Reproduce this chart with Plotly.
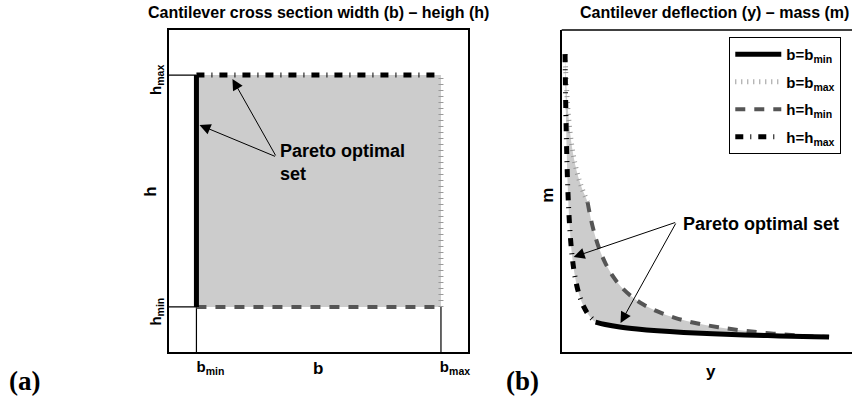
import plotly.graph_objects as go

# ---- left panel: design space (b, h) ----
B_MIN, B_MAX = 0.093, 0.91
H_MIN, H_MAX = 0.14, 0.86

# ---- right panel: objective space, deflection y vs mass m (arbitrary units) ----
y_hmax = [0.0116, 0.0134, 0.0165, 0.0214, 0.0268, 0.0334, 0.0412, 0.051, 0.063, 0.0764, 0.093, 0.1168]
m_hmax = [0.925, 0.80, 0.65, 0.50, 0.40, 0.32, 0.26, 0.21, 0.17, 0.14, 0.115, 0.093]

y_bmin = [0.1168, 0.15, 0.2, 0.26, 0.33, 0.42, 0.52, 0.63, 0.75, 0.87, 0.921]
m_bmin = [0.093, 0.0856, 0.0777, 0.0713, 0.0658, 0.0607, 0.0566, 0.0530, 0.0500, 0.0476, 0.0462]

y_hmin = [0.0893, 0.10, 0.115, 0.13, 0.15, 0.175, 0.205, 0.24, 0.28, 0.33, 0.39, 0.46, 0.54, 0.63, 0.73, 0.83, 0.921]
m_hmin = [0.465, 0.415, 0.361, 0.319, 0.277, 0.237, 0.202, 0.173, 0.148, 0.126, 0.106, 0.090, 0.077, 0.066, 0.057, 0.050, 0.0462]

y_bmax = [0.0116, 0.0135, 0.016, 0.0195, 0.024, 0.030, 0.037, 0.046, 0.057, 0.070, 0.0893]
m_bmax = [0.925, 0.880, 0.831, 0.778, 0.726, 0.674, 0.628, 0.584, 0.544, 0.508, 0.465]

FONT = "Liberation Sans"
FILL = "rgb(204,204,204)"
DASHDOT = "8px,7px,1px,7px"
DOTTED = "1px,5px"
DASHED = "10px,9px"

W, H = 854, 405
ML, MR, MT, MB = 0, 0, 30, 53
PW, PH = W - ML - MR, H - MT - MB


def px_x(p):
    return (p - ML) / PW


def px_y(p):
    return (H - MB - p) / PH


fig = go.Figure()

# left: feasible rectangle
fig.add_trace(go.Scatter(
    x=[B_MIN, B_MAX, B_MAX, B_MIN, B_MIN], y=[H_MIN, H_MIN, H_MAX, H_MAX, H_MIN],
    fill="toself", fillcolor=FILL, mode="none", showlegend=False, hoverinfo="skip",
    xaxis="x", yaxis="y"))
# guide lines to the tick positions
fig.add_trace(go.Scatter(
    x=[0, B_MIN, None, 0, B_MIN, None, B_MIN, B_MIN, None, B_MAX, B_MAX],
    y=[H_MAX, H_MAX, None, H_MIN, H_MIN, None, 0, H_MAX, None, 0, H_MIN],
    mode="lines", line=dict(color="black", width=1.2), showlegend=False,
    hoverinfo="skip", xaxis="x", yaxis="y"))
fig.add_trace(go.Scatter(
    x=[B_MAX, B_MAX], y=[H_MIN, H_MAX], mode="lines",
    line=dict(color="#999999", width=5, dash=DOTTED), showlegend=False,
    xaxis="x", yaxis="y"))
fig.add_trace(go.Scatter(
    x=[B_MIN, B_MAX], y=[H_MIN, H_MIN], mode="lines",
    line=dict(color="#555555", width=4, dash=DASHED), showlegend=False,
    xaxis="x", yaxis="y"))
fig.add_trace(go.Scatter(
    x=[B_MIN, B_MAX], y=[H_MAX, H_MAX], mode="lines",
    line=dict(color="black", width=5, dash=DASHDOT), showlegend=False,
    xaxis="x", yaxis="y"))
fig.add_trace(go.Scatter(
    x=[B_MIN, B_MIN], y=[H_MIN, H_MAX], mode="lines",
    line=dict(color="black", width=5), showlegend=False,
    xaxis="x", yaxis="y"))

# right: image of the rectangle in objective space
poly_y = y_hmax + y_bmin[1:] + y_hmin[::-1][1:] + y_bmax[::-1][1:]
poly_m = m_hmax + m_bmin[1:] + m_hmin[::-1][1:] + m_bmax[::-1][1:]
fig.add_trace(go.Scatter(
    x=poly_y, y=poly_m, fill="toself", fillcolor=FILL, mode="none",
    line=dict(shape="spline"), showlegend=False, hoverinfo="skip",
    xaxis="x2", yaxis="y2"))
fig.add_trace(go.Scatter(
    x=y_bmax, y=m_bmax, mode="lines", name="b=b<sub>max</sub>", legendrank=2,
    legendgroup="g2",
    line=dict(color="#999999", width=5, dash=DOTTED, shape="spline"),
    xaxis="x2", yaxis="y2"))
fig.add_trace(go.Scatter(
    x=y_hmin, y=m_hmin, mode="lines", name="h=h<sub>min</sub>", legendrank=3,
    legendgroup="g3",
    line=dict(color="#555555", width=4, dash=DASHED, shape="spline"),
    xaxis="x2", yaxis="y2"))
fig.add_trace(go.Scatter(
    x=y_hmax, y=m_hmax, mode="lines", name="h=h<sub>max</sub>", legendrank=4,
    legendgroup="g4",
    line=dict(color="black", width=5, dash=DASHDOT, shape="spline"),
    xaxis="x2", yaxis="y2"))
fig.add_trace(go.Scatter(
    x=y_bmin, y=m_bmin, mode="lines", name="b=b<sub>min</sub>", legendrank=1,
    legendgroup="g1",
    line=dict(color="black", width=5, shape="spline"),
    xaxis="x2", yaxis="y2"))

axis_common = dict(showgrid=False, zeroline=False, showline=True, linecolor="black",
                   linewidth=1.5, ticks="", range=[0, 1], fixedrange=True)


def label(text, px, py, size, angle=0, family=None):
    f = dict(size=size)
    if family:
        f["family"] = family
    return dict(text=text, x=px_x(px), y=px_y(py), xref="paper", yref="paper",
                xanchor="center", yanchor="middle", showarrow=False,
                textangle=angle, font=f)


def arrow(x, y, ax, ay, ref):
    return dict(text="", x=x, y=y, xref="x" + ref, yref="y" + ref, ax=ax, ay=ay,
                showarrow=True, arrowhead=2, arrowsize=2.2, arrowwidth=1,
                arrowcolor="black")


annotations = [
    # panel titles
    label("Cantilever cross section width (b) \u2013 heigh (h)", 319, 12, 16),
    label("Cantilever deflection (y) \u2013 mass (m)", 716, 12, 16),
    # axis titles
    label("h", 151, 192, 17, angle=-90),
    label("b", 319, 368, 17),
    label("m", 548, 195, 17, angle=-90),
    label("y", 713, 371, 17),
    # panel tags
    label("(a)", 25, 381, 27, family="Liberation Serif"),
    label("(b)", 524, 381, 27, family="Liberation Serif"),
    # Pareto labels, left panel
    dict(text="Pareto optimal<br>set", x=0.3667, y=0.59, xref="x", yref="y",
         xanchor="left", yanchor="middle", align="left", showarrow=False,
         font=dict(size=18)),
    arrow(0.1033, 0.705, 77, 32, ""),
    arrow(0.2133, 0.848, 44, 78, ""),
    # Pareto labels, right panel
    dict(text="Pareto optimal set", x=0.412, y=0.3975, xref="x2", yref="y2",
         xanchor="left", yanchor="middle", showarrow=False, font=dict(size=18)),
    arrow(0.0412, 0.295, 103, -35, "2"),
    arrow(0.2027, 0.090, 56, -101, "2"),
]

fig.update_layout(
    width=W, height=H, autosize=False,
    margin=dict(l=ML, r=MR, t=MT, b=MB),
    paper_bgcolor="white", plot_bgcolor="white",
    font=dict(family=FONT, color="black", weight="bold"),
    xaxis=dict(axis_common, domain=[px_x(169), px_x(469)], anchor="y", mirror=True,
               tickvals=[B_MIN, B_MAX], ticktext=["b<sub>min</sub>", "b<sub>max</sub>"],
               tickfont=dict(size=15), ticklabelshift=14),
    yaxis=dict(axis_common, domain=[0, 1], anchor="x", mirror=True,
               tickvals=[H_MIN, H_MAX], ticktext=["h<sub>min</sub>", "h<sub>max</sub>"],
               tickfont=dict(size=15), tickangle=-90, ticklabelshift=7),
    xaxis2=dict(axis_common, domain=[px_x(563), 1], anchor="y2", showticklabels=False),
    yaxis2=dict(axis_common, domain=[0, 1], anchor="x2", showticklabels=False),
    shapes=[dict(type="line", xref="paper", yref="paper", x0=px_x(563), x1=1, y0=1, y1=1,
                 line=dict(color="black", width=1.5))],
    legend=dict(x=px_x(731), y=px_y(37), xanchor="left", yanchor="top",
                bordercolor="black", borderwidth=1, bgcolor="white",
                font=dict(size=15), itemwidth=46, tracegroupgap=5,
                traceorder="grouped"),
    annotations=annotations,
    showlegend=True,
)

fig.write_html("out.html")
